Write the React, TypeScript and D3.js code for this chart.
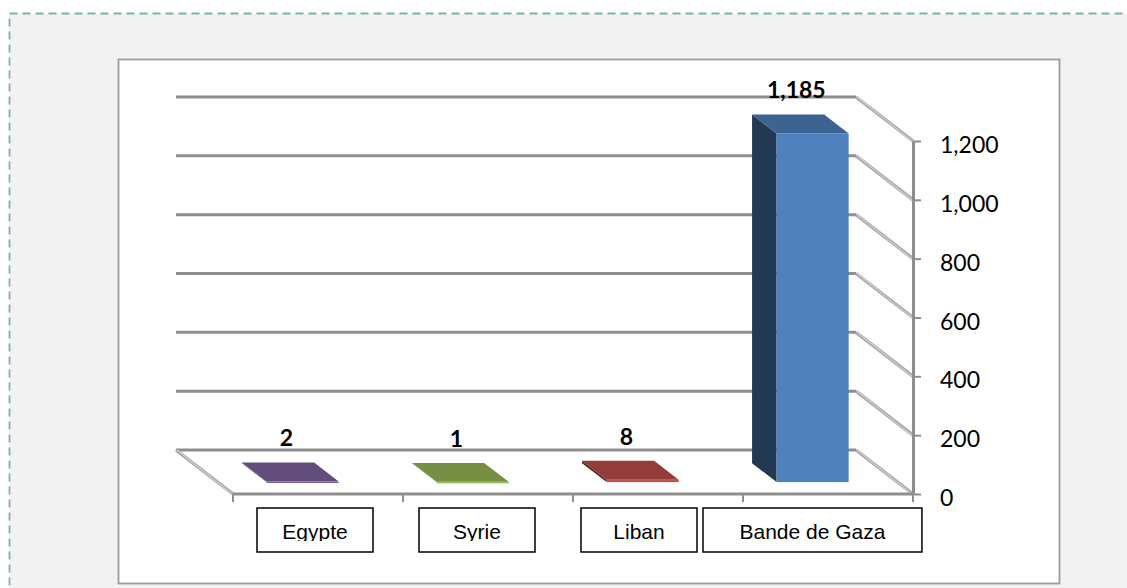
import { useEffect, useRef } from 'react';
import * as d3 from "d3";

// Chart data
const categories = ["Egypte", "Syrie", "Liban", "Bande de Gaza"];
const values = [2, 1, 8, 1185];
const barColors = ["#8064a2", "#9bbb59", "#c0504d", "#4f81bd"];
const yTicks = [0, 200, 400, 600, 800, 1000, 1200];
const yMax = 1200;

export default function App() {
  const chartRef = useRef<SVGSVGElement>(null);

  useEffect(() => {
    if (!chartRef.current) return;
    const svg = d3.select(chartRef.current);
    svg.selectAll("*").remove();

    const width = 1127;
    const height = 588;

    // back wall + depth of the 3d box
    const wallLeft = 176;
    const wallRight = 856;
    const wallBottom = 450;
    const wallTop = 97;
    const DX = 57;
    const DY = 44;
    const t0 = 0.3;
    const t1 = 0.73;

    const y = d3.scaleLinear().domain([0, yMax]).range([wallBottom, wallTop]);
    const yFront = d3.scaleLinear().domain([0, yMax]).range([wallBottom + DY, wallTop + DY]);
    const x = d3.scaleBand()
      .domain(categories)
      .range([wallLeft, wallRight])
      .paddingInner(0.576)
      .paddingOuter(0.288);
    const xFront = d3.scaleBand()
      .domain(categories)
      .range([wallLeft + DX, wallRight + DX]);
    const labelX = d3.scalePoint()
      .domain(categories)
      .range([315, 801]);

    const P = (xw: number, v: number, t: number): [number, number] => [xw + DX * t, y(v) + DY * t];

    // page background + dashed frame
    svg.append("rect")
      .attr("x", 9.5).attr("y", 13.5)
      .attr("width", width + 20).attr("height", height + 20)
      .attr("fill", "#f2f2f2")
      .attr("stroke", "#78b998")
      .attr("stroke-width", 1.8)
      .attr("stroke-dasharray", "8,5");

    // chart area
    svg.append("rect")
      .attr("x", 118.5).attr("y", 59.5)
      .attr("width", 941).attr("height", 524)
      .attr("fill", "#ffffff")
      .attr("stroke", "#9c9c9c")
      .attr("stroke-width", 1.8);

    // gridlines: back wall + right side wall
    const grid = svg.append("g");
    grid.selectAll("line.back")
      .data(yTicks)
      .join("line")
      .attr("class", "back")
      .attr("x1", wallLeft).attr("x2", wallRight)
      .attr("y1", d => y(d)).attr("y2", d => y(d))
      .attr("stroke", "#8e8e8e")
      .attr("stroke-width", 3);

    grid.selectAll("line.side")
      .data(yTicks)
      .join("line")
      .attr("class", "side")
      .attr("x1", wallRight).attr("x2", wallRight + DX)
      .attr("y1", d => y(d)).attr("y2", d => y(d) + DY)
      .attr("stroke", "#a9a9a9")
      .attr("stroke-width", 3.4);
    grid.selectAll("line.sideHi")
      .data(yTicks)
      .join("line")
      .attr("class", "sideHi")
      .attr("x1", wallRight + 1).attr("x2", wallRight + DX - 1)
      .attr("y1", d => y(d)).attr("y2", d => y(d) + DY)
      .attr("stroke", "#dcdcdc")
      .attr("stroke-width", 1);

    // floor: left edge and front edge
    svg.append("line")
      .attr("x1", wallLeft).attr("y1", y(0))
      .attr("x2", wallLeft + DX).attr("y2", y(0) + DY)
      .attr("stroke", "#a9a9a9").attr("stroke-width", 3.4);
    svg.append("line")
      .attr("x1", wallLeft + 1).attr("y1", y(0))
      .attr("x2", wallLeft + DX - 1).attr("y2", y(0) + DY)
      .attr("stroke", "#dcdcdc").attr("stroke-width", 1);
    svg.append("line")
      .attr("x1", wallLeft + DX).attr("y1", y(0) + DY)
      .attr("x2", wallRight + DX).attr("y2", y(0) + DY)
      .attr("stroke", "#8e8e8e").attr("stroke-width", 3);

    // category tick marks
    const catTicks = categories.map(c => xFront(c) || 0).concat([wallRight + DX]);
    svg.append("g")
      .selectAll("line")
      .data(catTicks)
      .join("line")
      .attr("x1", d => d).attr("x2", d => d)
      .attr("y1", y(0) + DY).attr("y2", y(0) + DY + 8)
      .attr("stroke", "#8e8e8e").attr("stroke-width", 2);

    // value axis on the front-right edge
    const axis = svg.append("g")
      .attr("transform", `translate(${wallRight + DX},0)`)
      .call(d3.axisRight(yFront).tickValues(yTicks).tickFormat(d3.format(",")).tickSize(8).tickSizeOuter(0).tickPadding(19));
    axis.select(".domain").attr("stroke", "#8e8e8e").attr("stroke-width", 3);
    axis.selectAll(".tick line").attr("stroke", "#8e8e8e").attr("stroke-width", 2);
    axis.selectAll(".tick text")
      .attr("fill", "#000")
      .attr("dy", "0.5em")
      .style("font-family", "Lato, 'Open Sans', sans-serif")
      .style("font-size", "23px");

    // 3d bars
    const bars = svg.append("g");
    categories.forEach((c, i) => {
      const v = values[i];
      const x0 = x(c) || 0;
      const x1 = x0 + x.bandwidth();
      const base = d3.color(barColors[i])!;
      const poly = (pts: [number, number][]) => pts.map(p => p.join(",")).join(" ");
      bars.append("polygon")
        .attr("points", poly([P(x0, v, t0), P(x0, v, t1), P(x0, 0, t1), P(x0, 0, t0)]))
        .attr("fill", base.darker(2.3).formatHex());
      const fl = P(x0, v, t1);
      const fr = P(x1, 0, t1);
      bars.append("rect")
        .attr("x", fl[0]).attr("y", fl[1])
        .attr("width", fr[0] - fl[0]).attr("height", Math.max(1.5, fr[1] - fl[1]))
        .attr("fill", barColors[i]);
      bars.append("polygon")
        .attr("points", poly([P(x0, v, t0), P(x1, v, t0), P(x1, v, t1), P(x0, v, t1)]))
        .attr("fill", base.darker(0.75).formatHex());
    });

    // data labels
    svg.append("g")
      .selectAll("text")
      .data(categories)
      .join("text")
      .attr("x", c => (x(c) || 0) + x.bandwidth() / 2 + DX * (t0 + t1) / 2 - 4)
      .attr("y", (c, i) => y(values[i]) - 11)
      .attr("dy", "0.35em")
      .attr("text-anchor", "middle")
      .style("font-family", "Lato, 'Open Sans', sans-serif")
      .style("font-weight", "bold")
      .style("font-size", "23px")
      .text((c, i) => d3.format(",")(values[i]));

    // category label boxes (text is clipped at the box baseline like the original)
    const defs = svg.append("defs");
    defs.append("clipPath").attr("id", "catclip")
      .append("rect").attr("x", 0).attr("y", 0).attr("width", width).attr("height", 541);

    const labels = svg.append("g");
    let prevRight = -Infinity;
    categories.forEach(c => {
      const cx = labelX(c) || 0;
      const txt = labels.append("text")
        .attr("y", 539)
        .attr("text-anchor", "middle")
        .attr("clip-path", "url(#catclip)")
        .style("font-family", "'Liberation Sans', Arial, sans-serif")
        .style("font-size", "21px")
        .text(c);
      const tw = (txt.node() as SVGTextElement).getComputedTextLength();
      const bw = Math.max(116, tw * 1.5);
      const left = Math.max(cx - bw / 2, prevRight + 6);
      prevRight = left + bw;
      txt.attr("x", left + bw / 2);
      labels.insert("rect", "text")
        .attr("x", left).attr("y", 508)
        .attr("width", bw).attr("height", 44)
        .attr("fill", "#fff")
        .attr("stroke", "#000")
        .attr("stroke-width", 1.5);
    });
  }, []);

  return (
    <svg
      ref={chartRef}
      width={1127}
      height={588}
      style={{ position: "absolute", left: 0, top: 0, display: "block" }}
    />
  );
}
